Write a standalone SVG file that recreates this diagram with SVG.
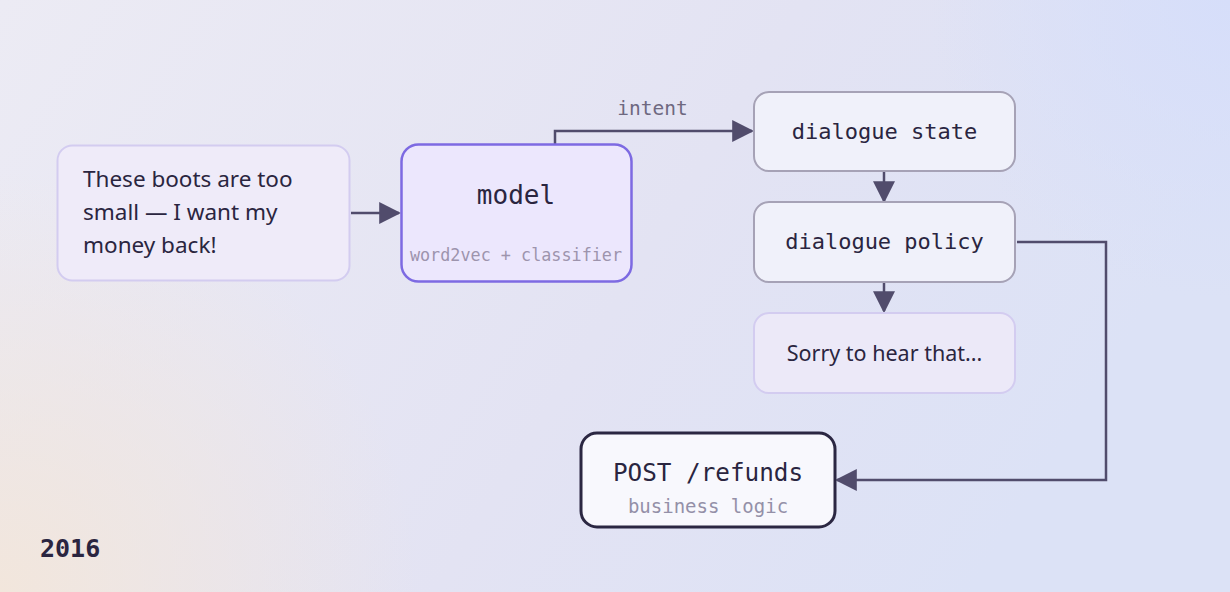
<svg xmlns="http://www.w3.org/2000/svg" width="1230" height="592" viewBox="0 0 1230 592">
<defs>
<linearGradient id="bg" x1="0" y1="0" x2="1" y2="0.3">
<stop offset="0" stop-color="#ecebf4"/>
<stop offset="0.6" stop-color="#e3e3f3"/>
<stop offset="1" stop-color="#dce2f6"/>
</linearGradient>
<radialGradient id="warm" cx="0" cy="592" r="420" gradientUnits="userSpaceOnUse">
<stop offset="0" stop-color="#f2e6dc" stop-opacity="1"/>
<stop offset="1" stop-color="#f2e6dc" stop-opacity="0"/>
</radialGradient>
<radialGradient id="cool" cx="1230" cy="0" r="300" gradientUnits="userSpaceOnUse">
<stop offset="0" stop-color="#d6defa" stop-opacity="1"/>
<stop offset="1" stop-color="#d6defa" stop-opacity="0"/>
</radialGradient>
<marker id="arr" viewBox="0 0 10 10" refX="9" refY="5" markerWidth="22" markerHeight="22" markerUnits="userSpaceOnUse" orient="auto">
<path d="M0,0 L10,5 L0,10 z" fill="#514c6c"/>
</marker>
<style>
.mono{font-family:"DejaVu Sans Mono",monospace;}
.sans{font-family:"Noto Sans","Open Sans",sans-serif;}
.conn{fill:none;stroke:#514c6c;stroke-width:2.5;}
.dark{fill:#2a2540;}
</style>
</defs>
<rect width="1230" height="592" fill="url(#bg)"/>
<rect width="1230" height="592" fill="url(#warm)"/>
<rect width="1230" height="592" fill="url(#cool)"/>

<g id="connectors">
<path class="conn" d="M351,213 H399" marker-end="url(#arr)"/>
<path class="conn" d="M555,144 V131 H752" marker-end="url(#arr)"/>
<text x="652.5" y="115" class="mono" font-size="19.5" fill="#6e6880" text-anchor="middle">intent</text>
<path class="conn" d="M884,172 V201" marker-end="url(#arr)"/>
<path class="conn" d="M884,283 V311" marker-end="url(#arr)"/>
<path class="conn" d="M1017,242 H1106 V480 H837" marker-end="url(#arr)"/>
</g>

<g id="input">
<rect x="57.5" y="145.5" width="292" height="135" rx="15" fill="#efebf9" stroke="#d3ccf0" stroke-width="2"/>
<text class="sans dark" font-size="22.5"><tspan x="83" y="187">These boots are too</tspan><tspan x="83" y="220">small — I want my</tspan><tspan x="83" y="253">money back!</tspan></text>
</g>

<g id="model">
<rect x="401.5" y="144.5" width="230" height="137" rx="17" fill="#ece7fd" stroke="#7d6ae2" stroke-width="2.5"/>
<text x="516" y="204" class="mono dark" font-size="26" text-anchor="middle">model</text>
<text x="516" y="261" class="mono" font-size="16.8" fill="#9d94ad" text-anchor="middle">word2vec + classifier</text>
</g>

<g id="dialogue-state">
<rect x="754" y="92" width="261" height="79" rx="15" fill="#f0f1fa" stroke="#a6a2b6" stroke-width="2"/>
<text x="884.5" y="139" class="mono dark" font-size="22" text-anchor="middle">dialogue state</text>
</g>

<g id="dialogue-policy">
<rect x="754" y="202" width="261" height="80" rx="15" fill="#f0f1fa" stroke="#a6a2b6" stroke-width="2"/>
<text x="884.5" y="249" class="mono dark" font-size="22" text-anchor="middle">dialogue policy</text>
</g>

<g id="reply">
<rect x="754" y="313" width="261" height="80" rx="15" fill="#ece9f8" stroke="#d3ccf0" stroke-width="2"/>
<text x="884.5" y="361" class="sans dark" font-size="21.5" text-anchor="middle">Sorry to hear that...</text>
</g>

<g id="refunds">
<rect x="581" y="433" width="254" height="94" rx="16" fill="#f8f8fd" stroke="#2b2742" stroke-width="3"/>
<text x="708" y="481" class="mono dark" font-size="24.3" text-anchor="middle">POST /refunds</text>
<text x="708" y="513" class="mono" font-size="19" fill="#9490a8" text-anchor="middle">business logic</text>
</g>

<text id="year" x="40" y="557" class="mono dark" font-size="25" font-weight="bold">2016</text>
</svg>
